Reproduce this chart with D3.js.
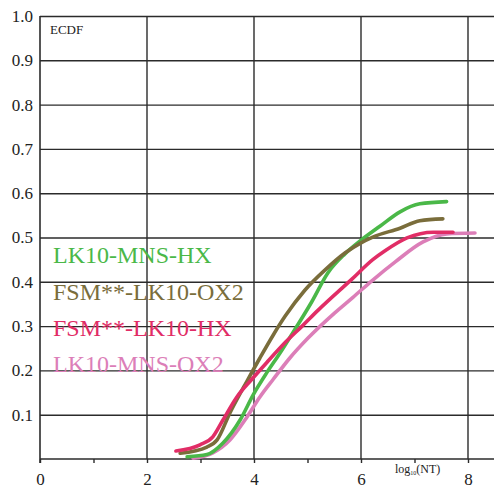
<!DOCTYPE html>
<html>
<head>
<meta charset="utf-8">
<script src="https://cdn.jsdelivr.net/npm/d3@7"></script>
<style>
  body { margin: 0; background: #fff; }
  svg { display: block; font-family: "Liberation Serif", "DejaVu Serif", serif; }
</style>
</head>
<body>
<svg id="chart" width="494" height="488"></svg>
<script>
// series (x = log10(NT), y = ECDF)
var names = ["LK10-MNS-HX", "FSM**-LK10-OX2", "FSM**-LK10-HX", "LK10-MNS-OX2"];
var colors = ["#4ab848", "#7a6d3b", "#e12d66", "#dc7eb8"];

var greenX = [2.75, 3.12, 3.42, 3.74, 3.99, 4.24, 4.49, 4.7, 5.08, 5.38, 5.7, 6.0, 6.36, 6.73, 7.1, 7.6];
var greenY = [0.005, 0.01, 0.036, 0.088, 0.146, 0.195, 0.24, 0.28, 0.355, 0.42, 0.463, 0.494, 0.526, 0.558, 0.576, 0.581];

var oliveX = [2.62, 3.12, 3.31, 3.55, 3.87, 4.11, 4.36, 4.58, 4.95, 5.33, 5.7, 6.0, 6.22, 6.73, 7.1, 7.53];
var oliveY = [0.013, 0.027, 0.043, 0.104, 0.176, 0.228, 0.28, 0.322, 0.381, 0.427, 0.465, 0.488, 0.501, 0.521, 0.538, 0.542];

var redX = [2.54, 2.99, 3.23, 3.42, 3.68, 3.96, 4.24, 4.6, 4.9, 5.2, 5.83, 6.22, 6.45, 6.86, 7.35, 7.72];
var redY = [0.018, 0.032, 0.05, 0.088, 0.14, 0.18, 0.218, 0.265, 0.3, 0.336, 0.406, 0.45, 0.47, 0.499, 0.512, 0.512];

var pinkX = [2.86, 3.23, 3.55, 3.87, 4.11, 4.36, 4.67, 5.01, 5.51, 5.85, 6.22, 6.64, 7.16, 7.6, 8.13];
var pinkY = [0.002, 0.014, 0.043, 0.095, 0.14, 0.18, 0.228, 0.273, 0.33, 0.365, 0.404, 0.445, 0.49, 0.508, 0.51];

var xTicks = [0, 1, 2, 3, 4, 5, 6, 7, 8];
var xLabels = [0, 2, 4, 6, 8];
var yTicks = [0.1, 0.2, 0.3, 0.4, 0.5, 0.6, 0.7, 0.8, 0.9, 1.0];

var svg = d3.select("#chart");
var plotLeft = 40, plotTop = 16, plotBottom = 459, xEnd = 468, rightEdge = 494;
var gridColor = "#2b2b2b";

var x = d3.scaleLinear().domain([0, 8]).range([plotLeft, xEnd]);
var y = d3.scaleLinear().domain([0, 1]).range([plotBottom, plotTop]);

// horizontal grid + y labels
var yAxis = svg.append("g")
    .attr("transform", "translate(" + plotLeft + ",0)")
    .call(d3.axisLeft(y).tickValues(yTicks).tickSize(-(rightEdge - plotLeft)).tickPadding(7)
        .tickFormat(d3.format(".1f")));
yAxis.select(".domain").remove();
yAxis.selectAll(".tick line").attr("stroke", gridColor).attr("stroke-width", 1.4);
yAxis.selectAll(".tick text")
    .attr("font-family", "Liberation Serif").attr("font-size", 17).attr("fill", "#222");

// vertical grid at labelled ticks
svg.append("g").selectAll("line")
    .data(xLabels.filter(function(d){ return d > 0; }))
    .join("line")
    .attr("x1", function(d){ return x(d); })
    .attr("x2", function(d){ return x(d); })
    .attr("y1", plotTop).attr("y2", plotBottom)
    .attr("stroke", gridColor).attr("stroke-width", 1.4);

// bottom axis
var xAxis = svg.append("g")
    .attr("transform", "translate(0," + plotBottom + ")")
    .call(d3.axisBottom(x).tickValues(xTicks).tickSize(4).tickPadding(10)
        .tickFormat(function(d){ return xLabels.indexOf(d) >= 0 ? d : ""; }));
xAxis.select(".domain").attr("d", "M" + plotLeft + ",0H" + rightEdge)
    .attr("stroke", gridColor).attr("stroke-width", 1.4);
xAxis.selectAll(".tick line").attr("stroke", gridColor).attr("stroke-width", 1.4);
xAxis.selectAll(".tick text")
    .attr("font-family", "Liberation Serif").attr("font-size", 17).attr("fill", "#222");

// left axis line
svg.append("line")
    .attr("x1", plotLeft).attr("x2", plotLeft).attr("y1", plotTop).attr("y2", plotBottom + 4)
    .attr("stroke", gridColor).attr("stroke-width", 1.6);

svg.append("text").attr("x", 50).attr("y", 34)
    .attr("font-size", 13).attr("fill", "#222").text("ECDF");

var xl = svg.append("text").attr("x", 395).attr("y", 473)
    .attr("font-size", 12).attr("fill", "#222");
xl.append("tspan").text("log");
xl.append("tspan").attr("font-size", 6).attr("dy", 2).text("10");
xl.append("tspan").attr("dy", -2).text("(NT)");

// curves
var seriesX = [greenX, oliveX, redX, pinkX];
var seriesY = [greenY, oliveY, redY, pinkY];
var line = d3.line()
    .x(function(d){ return x(d[0]); })
    .y(function(d){ return y(d[1]); })
    .curve(d3.curveMonotoneX);

var order = [3, 0, 1, 2];
order.forEach(function(i){
    var pts = d3.zip(seriesX[i], seriesY[i]);
    svg.append("path")
        .datum(pts)
        .attr("d", line)
        .attr("fill", "none")
        .attr("stroke", colors[i])
        .attr("stroke-width", 3.6)
        .attr("stroke-linecap", "round")
        .attr("stroke-linejoin", "round");
});

// legend labels
var legendY = [263, 300, 336, 372];
svg.append("g").selectAll("text")
    .data(names)
    .join("text")
    .attr("x", 53)
    .attr("y", function(d, i){ return legendY[i]; })
    .attr("font-size", 24)
    .attr("fill", function(d, i){ return colors[i]; })
    .text(function(d){ return d; });
</script>
</body>
</html>
